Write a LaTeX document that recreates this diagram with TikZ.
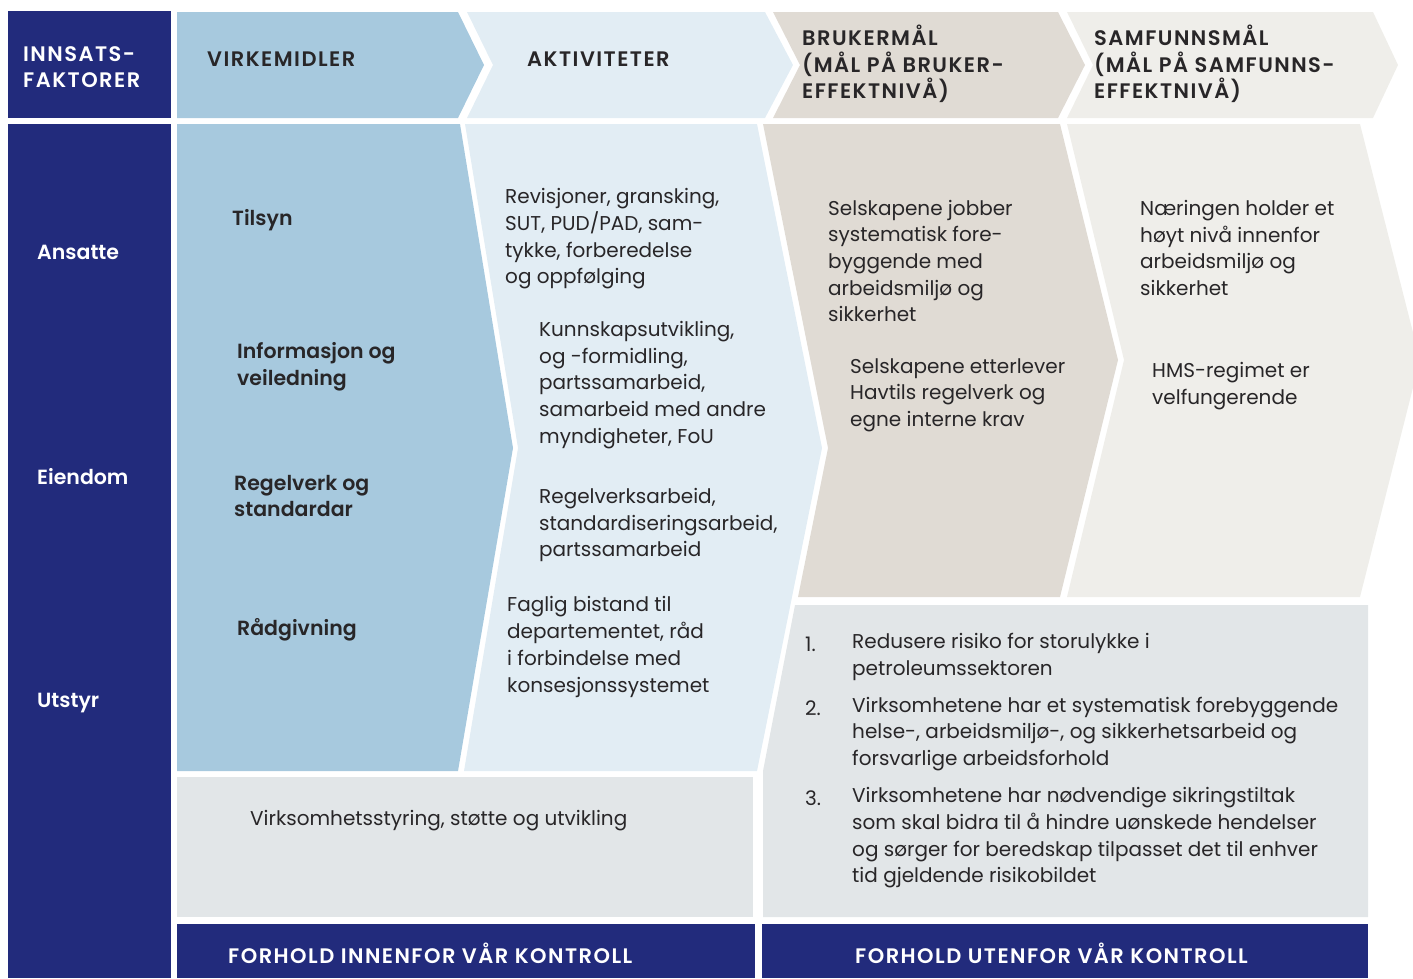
\documentclass[tikz,border=0pt]{standalone}
\usepackage{fontspec}
\IfFontExistsTF{Poppins SemiBold}
  {\setmainfont{Poppins}[BoldFont={Poppins SemiBold}]}
  {\setmainfont{Poppins}}
\usetikzlibrary{positioning}
\definecolor{navy}{RGB}{34,43,124}
\definecolor{midblue}{RGB}{167,201,222}
\definecolor{paleblue}{RGB}{226,237,244}
\definecolor{sand}{RGB}{224,219,212}
\definecolor{offwhite}{RGB}{239,238,234}
\definecolor{boxgrey}{RGB}{226,230,232}
\definecolor{ink}{RGB}{40,38,40}
\begin{document}
\begin{tikzpicture}[x=1pt,y=-1pt,
    txt/.style = {anchor=west, align=left, inner sep=0pt, text=ink,
      font=\fontsize{20}{26.7}\selectfont},
    headtxt/.style = {txt, font=\fontsize{20.5}{26.7}\selectfont\bfseries},
    captxt/.style = {txt, font=\fontsize{21}{26.7}\selectfont\bfseries\addfontfeatures{LetterSpace=7}},
    whitetxt/.style = {headtxt, text=white},
    whitecap/.style = {captxt, text=white}]
  \useasboundingbox (0,0) rectangle (1413,978);
  \clip (0,0) rectangle (1413,978);
  % header row
  \fill[navy] (8,11) rectangle (171,118);
  \fill[midblue] (177,12) -- (458,12) -- (484,65) -- (458,118) -- (177,118) -- cycle;
  \fill[paleblue] (467,12) -- (765,12) -- (793,65) -- (765,118) -- (467,118) -- (493,65) -- cycle;
  \fill[sand] (773,12) -- (1058,12) -- (1085,65) -- (1058,118) -- (773,118) -- (800,65) -- cycle;
  \fill[offwhite] (1067,12) -- (1373,12) -- (1398,65) -- (1373,118) -- (1067,118) -- (1093,65) -- cycle;
  % body
  \fill[navy] (8,124) rectangle (171,978);
  \fill[midblue] (177,124) -- (460,124) -- (513,448) -- (458,771) -- (177,771) -- cycle;
  \fill[paleblue] (465,124) -- (757,124) -- (822,448) -- (757,771) -- (464,771) -- (518,448) -- cycle;
  \fill[sand] (763,124) -- (1060,124) -- (1118,360) -- (1060,597) -- (798,597) -- (828,448) -- cycle;
  \fill[offwhite] (1067,124) -- (1360,124) -- (1420,360) -- (1360,597) -- (1067,597) -- (1124,360) -- cycle;
  \fill[boxgrey] (177,777) rectangle (753,917);
  \fill[boxgrey] (795,605) -- (1368,605) -- (1368,917) -- (763,917) -- (763,771) -- cycle;
  \fill[navy] (177,924) rectangle (755,978);
  \fill[navy] (762,924) rectangle (1368,978);

  % header texts
  \node (innsats) [whitecap] at (23,67) {INNSATS-\\FAKTORER};
  \node (virkemidler) [captxt] at (207,59) {VIRKEMIDLER};
  \node (aktiviteter) [captxt] at (527,59) {AKTIVITETER};
  \node (brukermal) [captxt] at (802,64) {BRUKERMÅL\\(MÅL PÅ BRUKER-\\EFFEKTNIVÅ)};
  \node (samfunnsmal) [captxt] at (1094,64) {SAMFUNNSMÅL\\(MÅL PÅ SAMFUNNS-\\EFFEKTNIVÅ)};

  % innsatsfaktorer
  \node (ansatte) [whitetxt] at (37,252) {Ansatte};
  \node (eiendom) [whitetxt] at (37,477) {Eiendom};
  \node (utstyr) [whitetxt] at (37,703) {Utstyr};

  % virkemidler
  \node (tilsyn) [headtxt] at (232,220) {Tilsyn};
  \node (informasjon) [headtxt] at (237,367) {Informasjon og\\veiledning};
  \node (regelverk) [headtxt] at (234,496) {Regelverk og\\standardar};
  \node (radgivning) [headtxt] at (237,630) {Rådgivning};

  % aktiviteter
  \node (revisjoner) [txt] at (505,239) {Revisjoner, gransking,\\SUT, PUD/PAD, sam-\\tykke, forberedelse\\og oppfølging};
  \node (kunnskap) [txt] at (539,385) {Kunnskapsutvikling,\\og -formidling,\\partssamarbeid,\\samarbeid med andre\\myndigheter, FoU};
  \node (regelarb) [txt] at (539,525) {Regelverksarbeid,\\standardiseringsarbeid,\\partssamarbeid};
  \node (faglig) [txt] at (507,647) {Faglig bistand til\\departementet, råd\\i forbindelse med\\konsesjonssystemet};

  % brukermaal
  \node (selskap1) [txt] at (828,261) {Selskapene jobber\\systematisk fore-\\byggende med\\arbeidsmiljø og\\sikkerhet};
  \node (selskap2) [txt] at (850,395) {Selskapene etterlever\\Havtils regelverk og\\egne interne krav};

  % samfunnsmaal
  \node (naeringen) [txt] at (1140,248) {Næringen holder et\\høyt nivå innenfor\\arbeidsmiljø og\\sikkerhet};
  \node (hms) [txt] at (1152,386) {HMS-regimet er\\velfungerende};

  % bottom boxes
  \node (styring) [txt] at (250,821) {Virksomhetsstyring, støtte og utvikling};
  \node (num1) [txt] at (805,644) {1.};
  \node (mal1) [txt] at (852,657) {Redusere risiko for storulykke i\\petroleumssektoren};
  \node (num2) [txt] at (805,708) {2.};
  \node (mal2) [txt] at (852,734) {Virksomhetene har et systematisk forebyggende\\helse-, arbeidsmiljø-, og sikkerhetsarbeid og\\forsvarlige arbeidsforhold};
  \node (num3) [txt] at (805,798) {3.};
  \node (mal3) [txt] at (852,838) {Virksomhetene har nødvendige sikringstiltak\\som skal bidra til å hindre uønskede hendelser\\og sørger for beredskap tilpasset det til enhver\\tid gjeldende risikobildet};

  \node (innenfor) [whitecap] at (228,953) {FORHOLD INNENFOR VÅR KONTROLL};
  \node (utenfor) [whitecap] at (855,953) {FORHOLD UTENFOR VÅR KONTROLL};
\end{tikzpicture}
\end{document}
